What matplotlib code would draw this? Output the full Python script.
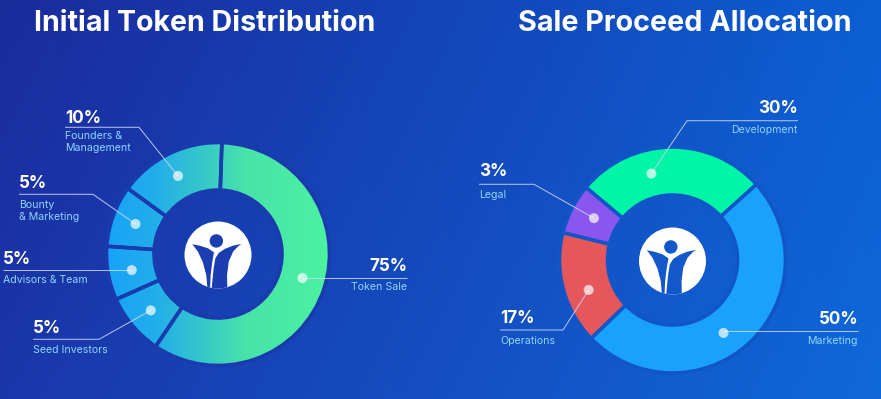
import numpy as np
import matplotlib.pyplot as plt
from matplotlib.colors import LinearSegmentedColormap
from matplotlib.patches import Circle, Polygon

# ----------------------------
# Values
# ----------------------------

left_title = "Initial Token Distribution"
left_pcts = ["10%", "5%", "5%", "5%", "75%"]
left_names = ["Founders &\nManagement", "Bounty\n& Marketing", "Advisors & Team",
              "Seed Investors", "Token Sale"]
# the artwork is not drawn to scale, so the arc sizes (degrees) are read separately
left_arcs = [56, 32, 28, 32, 212]

right_title = "Sale Proceed Allocation"
right_pcts = ["30%", "3%", "17%", "50%"]
right_names = ["Development", "Legal", "Operations", "Marketing"]
right_arcs = [98, 26, 58, 178]

# ----------------------------
# Styling / layout (image pixels, y measured from top)
# ----------------------------

W, H = 881, 399
FONT = "Inter"
right_colors = ["#00f5a6", "#8a56ee", "#e5575a", "#19a1fb"]
sub_color = "#8fd6ff"
line_color = "#c9d6f2"

left_geo = dict(cx=218, cy=254, r=111.5, width=47.5, start=88, edge="#1a3bae")
right_geo = dict(cx=672.5, cy=260, r=113, width=48, start=42, edge="#1156c8")

# text x, pct baseline, align, underline far end x (None = dot), underline y, sublabel top, dot position in wedge
left_layout = [
    (65, 123, "left", 139, 127.3, 131, 0.52),
    (19, 188, "left", 93, 194.3, 200, 0.5),
    (3, 264, "left", None, 270.3, 275, 0.52),
    (33, 333, "left", 99, 339.3, 345, 0.5),
    (407, 271, "right", None, 277.7, 282, 0.51),
]
right_layout = [
    (798, 113, "right", 687, 120.7, 125, 0.63),
    (479, 176, "left", 534, 184.3, 189.5, 0.46),
    (500, 323, "left", 563, 330.0, 336, 0.58),
    (858, 324, "right", None, 330.7, 335.5, 0.455),
]


def fy(y):
    return H - y


fig = plt.figure(figsize=(W / 100, H / 100), dpi=100)
ax = fig.add_axes([0, 0, 1, 1])

# background gradient
gx = np.linspace(0, 1, 200)
gy = np.linspace(0, 1, 100)[:, None]
c_left_top = np.array([0x1b, 0x2b, 0x9c]) / 255
c_left_bot = np.array([0x1a, 0x37, 0xaa]) / 255
c_right_top = np.array([0x0c, 0x5e, 0xd3]) / 255
c_right_bot = np.array([0x0f, 0x68, 0xda]) / 255
top = c_left_top[None, :] * (1 - gx[:, None]) + c_right_top[None, :] * gx[:, None]
bot = c_left_bot[None, :] * (1 - gx[:, None]) + c_right_bot[None, :] * gx[:, None]
bg = top[None, :, :] * (1 - gy[..., None]) + bot[None, :, :] * gy[..., None]
ax.imshow(bg, extent=(0, W, 0, H), origin="upper", aspect="auto",
          interpolation="bilinear", zorder=0)


def draw_logo(cx, cy, fig_color):
    r = 33.5
    disc = Circle((cx, fy(cy)), r, facecolor="white", edgecolor="none", zorder=5)
    ax.add_patch(disc)
    head = Circle((cx - 0.05 * r, fy(cy) + 0.42 * r), 0.2 * r, facecolor=fig_color,
                  edgecolor="none", zorder=6)
    ax.add_patch(head)
    # left arm: thick crescent sweeping down to the bottom
    left_piece = [(-0.77, 0.32), (-0.55, 0.28), (-0.30, 0.20), (-0.12, 0.08),
                  (-0.17, -0.20), (-0.22, -0.60), (-0.24, -1.05), (-0.31, -1.05),
                  (-0.35, -0.60), (-0.45, -0.22), (-0.60, 0.10), (-0.72, 0.26)]
    # right arm + body
    right_piece = [(0.70, 0.33), (0.45, 0.28), (0.20, 0.18), (0.02, 0.06),
                   (-0.08, -0.10), (-0.13, -0.40), (-0.17, -0.80), (-0.19, -1.05),
                   (0.28, -1.05), (0.27, -0.60), (0.32, -0.20), (0.45, 0.10),
                   (0.60, 0.26)]
    for piece in (left_piece, right_piece):
        pts = [(cx + px * r, fy(cy) + py * r) for px, py in piece]
        poly = Polygon(pts, closed=True, facecolor=fig_color, edgecolor="none", zorder=6)
        ax.add_patch(poly)
        poly.set_clip_path(disc)


def draw_labels(wedges, geo, layout, pcts, names):
    rmid = geo["r"] - geo["width"] / 2
    for w, lay, pct, name in zip(wedges, layout, pcts, names):
        tx, ty, ha, far_x, ly, sub_y, frac = lay
        ang = np.deg2rad(w.theta1 + frac * (w.theta2 - w.theta1))
        dx = geo["cx"] + rmid * np.cos(ang)
        dy = fy(geo["cy"]) + rmid * np.sin(ang)
        if far_x is None:
            far_x = dx
        xs = [tx, far_x, dx]
        ys = [fy(ly), fy(ly), dy]
        ax.plot(xs, ys, color=line_color, lw=0.75, alpha=0.85, zorder=7,
                solid_capstyle="butt")
        ax.add_patch(Circle((dx, dy), 5.0, facecolor="white", alpha=0.7,
                            edgecolor="none", zorder=8))
        ax.text(tx, fy(ty), pct, ha=ha, va="baseline", color="white",
                fontsize=12.3, fontweight="bold", family=FONT, zorder=9)
        ax.text(tx, fy(sub_y), name, ha=ha, va="top", color=sub_color,
                fontsize=7.6, family=FONT, linespacing=1.2, zorder=9)


# ----------------------------
# Left donut: horizontal blue -> green gradient
# ----------------------------
g = left_geo
wedges_l, _ = ax.pie(left_arcs, colors=["none"] * len(left_arcs),
                     center=(g["cx"], fy(g["cy"])), radius=g["r"],
                     startangle=g["start"], counterclock=True,
                     wedgeprops=dict(width=g["width"], edgecolor=g["edge"], linewidth=2.6))
cmap = LinearSegmentedColormap.from_list(
    "tok", [(0.0, "#18a2f8"), (0.22, "#22aeea"), (0.45, "#38cac6"),
            (0.62, "#47e3aa"), (1.0, "#4cf2a0")])
grad = np.linspace(0, 1, 256)[None, :]
for w in wedges_l:
    w.set_zorder(3)
    im = ax.imshow(grad, cmap=cmap, extent=(g["cx"] - g["r"], g["cx"] + g["r"],
                                             fy(g["cy"]) - g["r"], fy(g["cy"]) + g["r"]),
                   aspect="auto", interpolation="bilinear", zorder=2)
    im.set_clip_path(w)
draw_logo(g["cx"], g["cy"] + 1, "#1a3db2")
draw_labels(wedges_l, g, left_layout, left_pcts, left_names)

# ----------------------------
# Right donut: solid colours
# ----------------------------
g = right_geo
wedges_r, _ = ax.pie(right_arcs, colors=right_colors,
                     center=(g["cx"], fy(g["cy"])), radius=g["r"],
                     startangle=g["start"], counterclock=True,
                     wedgeprops=dict(width=g["width"], edgecolor=g["edge"], linewidth=2.6))
for w in wedges_r:
    w.set_zorder(3)
draw_logo(g["cx"], g["cy"] + 1, "#1358cb")
draw_labels(wedges_r, g, right_layout, right_pcts, right_names)

# titles
ax.text(34, fy(31), left_title, ha="left", va="baseline", color="white",
        fontsize=20.6, fontweight="bold", family=FONT)
ax.text(518, fy(31), right_title, ha="left", va="baseline", color="white",
        fontsize=20.7, fontweight="bold", family=FONT)

ax.set_xlim(0, W)
ax.set_ylim(0, H)
ax.set_aspect("auto")
ax.axis("off")

fig.savefig("out.png", dpi=100)
